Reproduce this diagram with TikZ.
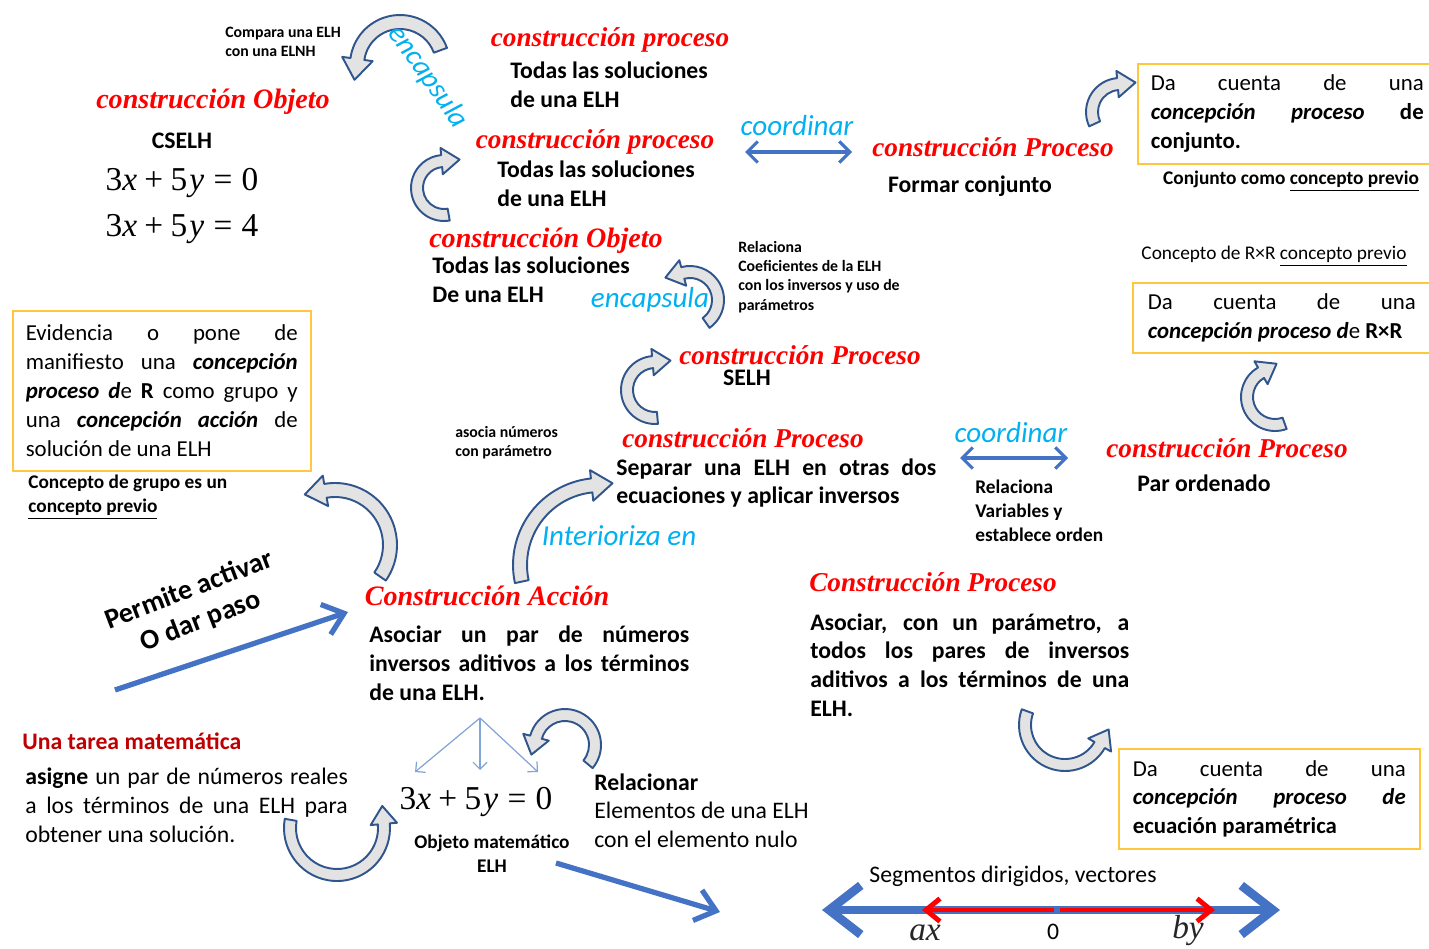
\documentclass[tikz,border=0pt]{standalone}
\usepackage{fontspec}
\setmainfont{Carlito}
\newfontfamily\headserif{Liberation Serif}
\usetikzlibrary{arrows.meta,calc}

\definecolor{headred}{RGB}{255,0,0}
\definecolor{taskred}{RGB}{192,0,0}
\definecolor{linkcyan}{RGB}{0,176,240}
\definecolor{flowblue}{RGB}{68,114,196}
\definecolor{bendblue}{RGB}{47,85,140}
\definecolor{thinblue}{RGB}{130,165,215}
\definecolor{boxyellow}{RGB}{255,200,60}

% the equation 3x+5y=c
\newcommand{\elh}[1]{3\textit{x}\hspace{.22em}+\hspace{.22em}5\hspace{.06em}\textit{y}\hspace{.28em}=\hspace{.28em}#1}

% bent block arrow: centre x, centre y, radius, start angle, end angle, half width
\newcommand{\bentarrow}[6]{%
  \pgfmathsetmacro{\bsgn}{ifthenelse(#5>#4,1,-1)}%
  \filldraw[bent] ($(#1,#2)+(#4:#3+#6)$) arc[start angle=#4, end angle=#5, radius=#3+#6]
    -- ($(#1,#2)+(#5:#3+2.2*#6)$)
    -- ($(#1,#2)+(#5:#3)+(#5+90*\bsgn:3*#6)$)
    -- ($(#1,#2)+(#5:#3-2.2*#6)$)
    -- ($(#1,#2)+(#5:#3-#6)$) arc[start angle=#5, end angle=#4, radius=#3-#6] -- cycle;
}

\tikzset{
  headit/.style={text=headred, inner sep=0, font=\headserif\bfseries\itshape\fontsize{15.5}{19}\selectfont},
  headbold/.style={text=headred, inner sep=0, font=\headserif\bfseries\itshape\fontsize{16}{19}\selectfont},
  linktxt/.style={text=linkcyan, inner sep=0, font=\itshape\fontsize{16.5}{19}\selectfont},
  bodytxt/.style={inner sep=0, align=left, font=\bfseries\fontsize{13.5}{16.4}\selectfont},
  plaintxt/.style={inner sep=0, align=left, font=\fontsize{13.5}{16.4}\selectfont},
  smalltxt/.style={inner sep=0, align=left, font=\bfseries\fontsize{9}{11}\selectfont},
  notetxt/.style={inner sep=0, align=left, font=\bfseries\fontsize{11}{13.6}\selectfont},
  eqtxt/.style={inner sep=0, font=\headserif\fontsize{19}{22}\selectfont},
  infobox/.style={draw=boxyellow, line width=0.9pt, anchor=north west, align=justify,
    inner ysep=0, font=\fontsize{13}{16.4}\selectfont},
  bent/.style={draw=bendblue, fill=gray!22, line width=1.1pt, line join=round},
  flow/.style={draw=flowblue, line width=3pt, -{Straight Barb[length=11pt,width=18pt]}},
  coord/.style={draw=flowblue, line width=1.8pt, {Straight Barb[length=6pt,width=12pt]}-{Straight Barb[length=6pt,width=12pt]}},
  fork/.style={draw=thinblue, line width=0.7pt, -{Straight Barb[length=4pt,width=8pt]}}
}

\begin{document}
\begin{tikzpicture}[x=0.02cm, y=0.02cm]
\useasboundingbox (0,0) rectangle (1429,-949);

% bent arrows
\bentarrow{400}{-65}{43}{20}{172}{7}
\bentarrow{444}{-188}{27}{280}{95}{6}
\bentarrow{690}{-300}{28}{-55}{105}{6}
\bentarrow{655}{-390}{28}{275}{95}{6}
\bentarrow{600}{-565}{80}{192}{96}{7}
\bentarrow{335}{-545}{55}{-35}{100}{7}
\bentarrow{565}{-745}{30}{-40}{165}{6}
\bentarrow{337}{-828}{47}{170}{365}{6}
\bentarrow{1065}{-725}{40}{160}{330}{6}
\bentarrow{1120}{-112}{28}{205}{95}{6}
\bentarrow{1275}{-397}{28}{290}{120}{6}

% upper left: two equations
\node[smalltxt, anchor=west] (compara) at (225,-42) {Compara una ELH\\con una ELNH};
\node[headbold] (objTop) at (213,-102) {construcción Objeto};
\node[bodytxt] (cselh) at (182,-141) {CSELH};
\node[eqtxt] (eqZero) at (182,-183) {\elh{0}};
\node[eqtxt] (eqFour) at (182,-229) {\elh{4}};
\node[linktxt, rotate=-55] (encTop) at (428,-77) {encapsula};

% upper middle
\node[headit] (procA) at (610,-40) {construcción proceso};
\node[bodytxt, anchor=west] (solA) at (510,-85) {Todas las soluciones\\de una ELH};
\node[headit] (procB) at (595,-142) {construcción proceso};
\node[bodytxt, anchor=west] (solB) at (497,-184) {Todas las soluciones\\de una ELH};
\node[linktxt] (coordA) at (797,-126) {coordinar};
\coordinate (coordAl) at (745,-152);
\coordinate (coordAr) at (852,-152);
\draw[coord] (coordAl) -- (coordAr);
\node[headit] (procSet) at (993,-147) {construcción Proceso};
\node[bodytxt] (formar) at (970,-186) {Formar conjunto};

% upper right boxes
\node[infobox, text width=5.46cm, inner xsep=0.26cm, minimum height=2cm] (boxSet) at (1137,-63)
  {Da cuenta de una\linebreak \textbf{\textit{concepción proceso}} \textbf{de}\linebreak \textbf{conjunto.}};
\node[notetxt] (conjPrev) at (1291,-181) {Conjunto como \underline{concepto previo}};
\node[notetxt, font=\fontsize{11}{13.6}\selectfont] (rxrPrev) at (1274,-256) {Concepto de R×R \underline{concepto previo}};
\node[infobox, text width=5.36cm, inner xsep=0.3cm, minimum height=1.4cm] (boxRxR) at (1132,-282)
  {Da cuenta de una\linebreak \mbox{\textbf{\textit{concepción proceso d}}e \textbf{R×R}}};
\node[headit] (procPar) at (1227,-448) {construcción Proceso};
\node[bodytxt] (par) at (1204,-483) {Par ordenado};

% middle
\node[headbold] (objMid) at (546,-241) {construcción Objeto};
\node[bodytxt, anchor=west] (solC) at (432,-280) {Todas las soluciones\\De una ELH};
\node[smalltxt, anchor=west] (relCoef) at (738,-277) {Relaciona\\Coeficientes de la ELH\\con los inversos y uso de\\parámetros};
\node[linktxt] (encMid) at (650,-300) {encapsula};
\node[headit] (procSelh) at (800,-355) {construcción Proceso};
\node[bodytxt] (selh) at (747,-378) {SELH};
\node[smalltxt, anchor=west] (asocia) at (455,-443) {asocia números\\con parámetro};
\node[headit] (procSep) at (743,-438) {construcción Proceso};
\node[bodytxt, anchor=west, text width=6.4cm, align=justify] (separar) at (616,-483)
  {Separar una ELH en otras dos\linebreak ecuaciones y aplicar inversos};
\node[linktxt] (coordB) at (1011,-433) {coordinar};
\coordinate (coordBl) at (960,-458);
\coordinate (coordBr) at (1068,-458);
\draw[coord] (coordBl) -- (coordBr);
\node[notetxt, anchor=west] (relVar) at (975,-511) {Relaciona\\Variables y\\establece orden};
\node[linktxt] (inter) at (619,-536) {Interioriza en};

% left box
\node[infobox, text width=5.44cm, inner xsep=0.26cm, minimum height=3.2cm] (boxGroup) at (12,-310)
  {Evidencia o pone de\linebreak manifiesto una \textbf{\textit{concepción}}\linebreak
   \textbf{\textit{proceso d}}e \textbf{R} como grupo y\linebreak una \textbf{\textit{concepción acción}} de\linebreak
   solución de una ELH};
\node[notetxt, anchor=west] (grupoPrev) at (28,-497) {Concepto de grupo es un\\\underline{concepto previo}};

% action
\node[bodytxt, rotate=21, align=center, font=\bfseries\fontsize{16}{19}\selectfont] (permite) at (195,-606) {Permite activar\\O dar paso};
\coordinate (permStart) at (115,-690);
\coordinate (permEnd) at (348,-612);
\draw[flow] (permStart) -- (permEnd);
\node[headbold] (accion) at (487,-596) {Construcción Acción};
\node[bodytxt, anchor=west, text width=6.4cm, align=justify] (asocPar) at (369,-663)
  {Asociar un par de números\linebreak inversos aditivos a los términos\linebreak de una ELH.};
\node[headit] (procParam) at (933,-582) {Construcción Proceso};
\node[bodytxt, anchor=west, text width=6.38cm, align=justify] (asocParam) at (810,-665)
  {Asociar, con un parámetro, a\linebreak todos los pares de inversos\linebreak aditivos a los términos de una\linebreak ELH.};
\node[infobox, text width=5.46cm, inner xsep=0.28cm, minimum height=2cm] (boxParam) at (1118,-748)
  {Da cuenta de una\linebreak \textbf{\textit{concepción proceso de}}\linebreak \textbf{ecuación paramétrica}};

% bottom left: the task
\node[bodytxt, anchor=west, text=taskred] (tarea) at (22,-741) {Una tarea matemática};
\node[plaintxt, anchor=west, text width=6.45cm, align=justify] (asigne) at (25,-805)
  {\textbf{asigne} un par de números reales\linebreak a los términos de una ELH para\linebreak obtener una solución.};

% the equation as object
\coordinate (fork) at (480,-718);
\coordinate (forkL) at (415,-772);
\coordinate (forkM) at (480,-770);
\coordinate (forkR) at (538,-772);
\draw[fork] (fork) -- (forkL);
\draw[fork] (fork) -- (forkM);
\draw[fork] (fork) -- (forkR);
\node[eqtxt] (eqObj) at (476,-802) {\elh{0}};
\node[notetxt, align=center] (objMat) at (492,-854) {Objeto matemático\\ELH};
\node[bodytxt, anchor=west] (relacionar) at (594,-782) {Relacionar};
\node[plaintxt, anchor=west] (elementos) at (594,-825) {Elementos de una ELH\\con el elemento nulo};
\coordinate (elhStart) at (556,-863);
\coordinate (elhEnd) at (720,-912);
\draw[flow] (elhStart) -- (elhEnd);

% number line
\node[plaintxt] (segm) at (1013,-876) {Segmentos dirigidos, vectores};
\coordinate (lineL) at (822,-910);
\coordinate (lineR) at (1280,-910);
\coordinate (zeroL) at (1054,-910);
\coordinate (zeroR) at (1060,-910);
\coordinate (axEnd) at (922,-910);
\coordinate (byEnd) at (1215,-910);
\draw[draw=flowblue, line width=5pt, {Straight Barb[length=18pt,width=28pt]}-{Straight Barb[length=18pt,width=28pt]}] (lineL) -- (lineR);
\draw[draw=red, line width=2.8pt, -{Straight Barb[length=8pt,width=13pt]}] (zeroL) -- (axEnd);
\draw[draw=red, line width=2.8pt, -{Straight Barb[length=8pt,width=13pt]}] (zeroR) -- (byEnd);
\node[eqtxt, font=\headserif\itshape\fontsize{19}{22}\selectfont, text=black!85] (ax) at (925,-933) {ax};
\node[plaintxt] (zero) at (1053,-932) {0};
\node[eqtxt, font=\headserif\itshape\fontsize{19}{22}\selectfont, text=black!85] (by) at (1188,-931) {by};
\end{tikzpicture}
\end{document}
